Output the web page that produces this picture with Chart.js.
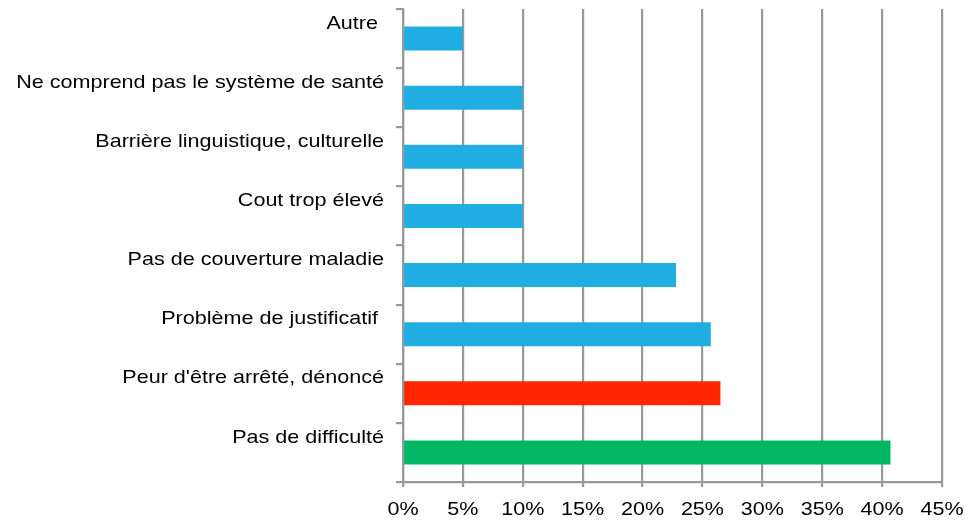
<!DOCTYPE html>
<html>
<head>
<meta charset="utf-8">
<script src="https://cdn.jsdelivr.net/npm/chart.js@4/dist/chart.umd.min.js"></script>
<style>
html,body{margin:0;padding:0;background:#fff;}
#wrap{width:965px;height:522px;}
</style>
</head>
<body>
<div id="wrap"><canvas id="c" width="965" height="522"></canvas></div>
<script>
const categories = [
  'Autre ',
  'Ne comprend pas le système de santé',
  'Barrière linguistique, culturelle',
  'Cout trop élevé',
  'Pas de couverture maladie',
  'Problème de justificatif ',
  "Peur d'être arrêté, dénoncé",
  'Pas de difficulté'
];
const values = [5, 10, 10, 10, 22.8, 25.7, 26.5, 40.7];
const barColors = ['#20AEE2','#20AEE2','#20AEE2','#20AEE2','#20AEE2','#20AEE2','#FF2600','#00B863'];
const tickMax = 45;
const tickStep = 5;

const FONT = 'Liberation Sans, Arial, sans-serif';
const GRID = '#999999';
const LW = 2.2;
const STRETCH = 1.165;

// The reference text is horizontally widened; draw labels with the same widening.
const stretchText = {
  id: 'stretchText',
  beforeDraw(chart) {
    const ctx = chart.ctx;
    if (ctx.__stretched) return;
    const orig = ctx.fillText;
    ctx.fillText = function (t, x, y, mw) {
      this.save();
      this.translate(x, y);
      this.scale(STRETCH, 1);
      orig.call(this, t, 0, 0);
      this.restore();
    };
    ctx.__stretched = true;
  }
};

new Chart(document.getElementById('c'), {
  type: 'bar',
  data: {
    labels: categories,
    datasets: [{
      data: values,
      backgroundColor: barColors,
      borderWidth: 0,
      barPercentage: 0.81,
      categoryPercentage: 0.5
    }]
  },
  plugins: [stretchText],
  options: {
    indexAxis: 'y',
    responsive: false,
    animation: false,
    devicePixelRatio: 1,
    layout: { padding: { top: 9, right: 23, bottom: 0, left: 0 } },
    plugins: { legend: { display: false }, tooltip: { enabled: false } },
    scales: {
      x: {
        min: 0,
        max: tickMax,
        ticks: {
          stepSize: tickStep,
          callback: v => v + '%',
          color: '#000',
          font: { family: FONT, size: 18.5 },
          padding: 12,
          maxRotation: 0
        },
        grid: { color: GRID, lineWidth: LW, tickLength: 5, drawTicks: true },
        border: { display: true, color: GRID, width: LW },
        afterFit: s => { s.paddingRight = 0; s.paddingLeft = 0; s.height = 40; }
      },
      y: {
        grid: { offset: true, drawOnChartArea: false, drawTicks: true, tickLength: 7, color: GRID, lineWidth: LW },
        border: { display: true, color: GRID, width: LW },
        ticks: {
          labelOffset: -15,
          padding: 12,
          color: '#000',
          font: { family: FONT, size: 18.5 }
        },
        afterFit: s => { s.width = 403; s.paddingTop = 0; s.paddingBottom = 0; }
      }
    }
  }
});
</script>
</body>
</html>
